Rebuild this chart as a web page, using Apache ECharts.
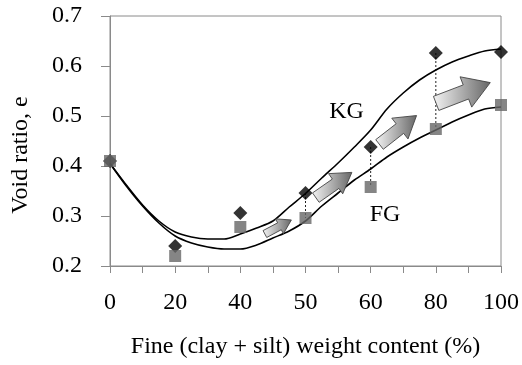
<!DOCTYPE html>
<html>
<head>
<meta charset="utf-8">
<script src="https://cdn.jsdelivr.net/npm/echarts@6/dist/echarts.min.js"></script>
<style>html,body{margin:0;padding:0;background:#fff}#c{width:522px;height:365px}</style>
</head>
<body>
<div id="c"></div>
<script>
// Tick labels / categories of fine content (%)
const tickLabels = ['0', '20', '40', '50', '60', '80', '100'];
// Measured void ratios
const kgVoid = [0.41, 0.24, 0.306, 0.346, 0.438, 0.626, 0.628];
const fgVoid = [0.41, 0.22, 0.278, 0.296, 0.358, 0.474, 0.522];
// Indices of pairs joined by a dotted connector
const tiePairs = [3, 4, 5];
// Trend curves sampled at half-category positions
const curvePos = [0,0.5,1,1.5,2,2.5,3,3.5,4,4.5,5,5.5,6,6.5,7,7.5,8,8.5,9,9.5,10,10.5,11,11.5,12];
const kgCurve = [0.405,0.362,0.322,0.29,0.268,0.258,0.254,0.254,0.264,0.276,0.29,0.318,0.345,0.376,0.406,0.438,0.472,0.514,0.546,0.572,0.592,0.608,0.62,0.63,0.634];
const fgCurve = [0.405,0.36,0.32,0.286,0.26,0.246,0.238,0.234,0.234,0.242,0.256,0.27,0.29,0.32,0.346,0.372,0.394,0.418,0.438,0.456,0.472,0.488,0.502,0.514,0.518];
// Annotation arrows: [axis position, void ratio, length px, angle deg]
const arrowPos = [5.16, 6.87, 8.84, 10.84];
const arrowVal = [0.278, 0.362, 0.472, 0.546];
const arrowLen = [30, 44, 47, 58];
const arrowAng = [28, 35, 38, 21];
// Curve labels
const curveLabels = ['KG', 'FG'];
const labelPos = [7.26, 8.44];
const labelVal = [0.508, 0.302];

const FONT = 'Liberation Serif';
const axisGray = '#8a8a8a';
const xOf = i => i * 2;

const chart = echarts.init(document.getElementById('c'), null, {renderer: 'canvas'});

const series = [];
tiePairs.forEach(k => {
  series.push({
    type: 'line', data: [[xOf(k), kgVoid[k]], [xOf(k), fgVoid[k]]],
    symbol: 'none', silent: true, z: 1,
    lineStyle: {color: '#222', width: 1, type: [2, 2]}
  });
});
series.push({
  name: 'KG curve', type: 'line', smooth: 0.3, symbol: 'none', z: 2,
  data: curvePos.map((p, i) => [p, kgCurve[i]]),
  lineStyle: {color: '#000', width: 1.6}
});
series.push({
  name: 'FG curve', type: 'line', smooth: 0.3, symbol: 'none', z: 2,
  data: curvePos.map((p, i) => [p, fgCurve[i]]),
  lineStyle: {color: '#000', width: 1.6}
});
series.push({
  name: 'KG', type: 'scatter', symbol: 'diamond', symbolSize: 14, z: 3,
  data: kgVoid.map((v, i) => [xOf(i), v]),
  itemStyle: {color: '#000'}
});
series.push({
  name: 'FG', type: 'scatter', symbol: 'rect', symbolSize: 12, z: 4,
  data: fgVoid.map((v, i) => [xOf(i), v]),
  itemStyle: {color: '#666'}
});

chart.setOption({
  animation: false,
  backgroundColor: '#fff',
  textStyle: {fontFamily: FONT},
  grid: {left: 110, right: 17, top: 16, bottom: 99, show: true, borderColor: axisGray, borderWidth: 1},
  xAxis: {
    type: 'value', min: 0, max: 12, interval: 2,
    name: 'Fine (clay + silt) weight content (%)', nameLocation: 'middle', nameGap: 69,
    nameTextStyle: {fontFamily: FONT, fontSize: 24, color: '#000'},
    axisLine: {lineStyle: {color: axisGray, width: 1}},
    axisTick: {show: true, length: 7, lineStyle: {color: axisGray}},
    minorTick: {show: true, splitNumber: 2, length: 7, lineStyle: {color: axisGray}},
    splitLine: {show: false},
    axisLabel: {fontFamily: FONT, fontSize: 24, color: '#000', margin: 25,
      formatter: v => tickLabels[Math.round(v / 2)] ?? ''}
  },
  yAxis: {
    type: 'value', min: 0.2, max: 0.7, interval: 0.1,
    name: 'Void ratio, e', nameLocation: 'middle', nameGap: 77,
    nameTextStyle: {fontFamily: FONT, fontSize: 24, color: '#000', padding: [0, 28, 0, 0]},
    axisLine: {show: true, lineStyle: {color: axisGray, width: 1}},
    axisTick: {show: true, length: 9, lineStyle: {color: axisGray}},
    splitLine: {show: false},
    axisLabel: {fontFamily: FONT, fontSize: 24, color: '#000', margin: 28,
      formatter: v => v.toFixed(1)}
  },
  series: series
});

// Annotation graphics placed through the grid's coordinate system
const graphics = [];
arrowPos.forEach((p, k) => {
  const c = chart.convertToPixel({gridIndex: 0}, [p, arrowVal[k]]);
  const L = arrowLen[k], a = -arrowAng[k] * Math.PI / 180;
  const w = 0.13 * L, h = 0.28 * L, H = 0.45 * L;
  const local = [[-L/2, -w], [L/2 - H, -w], [L/2 - H, -h], [L/2, 0], [L/2 - H, h], [L/2 - H, w], [-L/2, w]];
  const pts = local.map(([x, y]) => [c[0] + x * Math.cos(a) - y * Math.sin(a), c[1] + x * Math.sin(a) + y * Math.cos(a)]);
  graphics.push({
    type: 'polygon', z: 5,
    shape: {points: pts},
    style: {
      fill: new echarts.graphic.LinearGradient(0, 0.5, 1, 0.5, [
        {offset: 0, color: '#f4f4f4'}, {offset: 1, color: '#666'}]),
      stroke: '#444', lineWidth: 0.9
    }
  });
});
curveLabels.forEach((t, k) => {
  const c = chart.convertToPixel({gridIndex: 0}, [labelPos[k], labelVal[k]]);
  graphics.push({
    type: 'text', z: 6, x: c[0], y: c[1],
    style: {text: t, fontFamily: FONT, fontSize: 24, fill: '#000', align: 'center', verticalAlign: 'middle'}
  });
});
chart.setOption({graphic: graphics});
</script>
</body>
</html>
